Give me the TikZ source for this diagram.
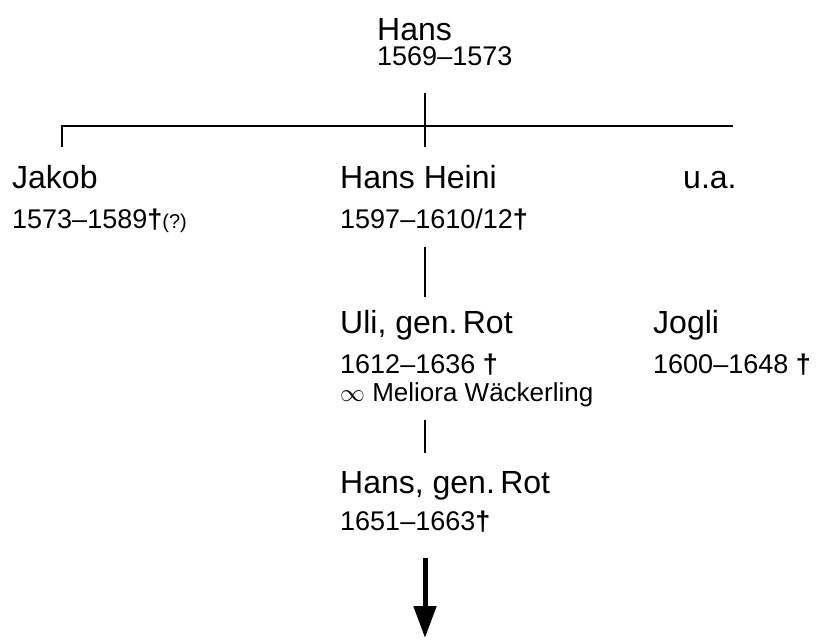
\documentclass[tikz,border=0pt]{standalone}
\usepackage{fontspec}
\setmainfont{Liberation Sans}
\usetikzlibrary{arrows.meta}
\tikzset{
  person/.style={font=\fontsize{32}{36}\selectfont, inner sep=0pt, anchor=base west,
    text height=23pt, text depth=0pt},
  dates/.style={font=\fontsize{27}{30}\selectfont, inner sep=0pt, anchor=base west,
    text height=19pt, text depth=0pt},
  spouse/.style={font=\fontsize{26}{28}\selectfont, inner sep=0pt, anchor=base west,
    text height=18pt, text depth=0pt},
  link/.style={line width=1.6pt},
}
\newcommand{\dg}{\textbf{†}}
\newcommand{\marr}{{\fontsize{30}{30}\selectfont$\infty$}}
\begin{document}
\begin{tikzpicture}[x=1pt,y=-1pt]
  \useasboundingbox (0,0) rectangle (816,643);

  % generation 1
  \node[person] (hans) at (377,40) {Hans};
  \node[dates] (hansd) at (377,65) {1569–1573};

  % generation 2
  \node[person] (jak) at (12,188) {Jakob};
  \node[dates] (jakd) at (12,228) {1573–1589\dg{\fontsize{20}{22}\selectfont(?)}};
  \node[person] (hh) at (340,188) {Hans Heini};
  \node[dates] (hhd) at (340,228) {1597–1610/12\dg};
  \node[person] (ua) at (683,188) {u.a.};

  % generation 3
  \node[person] (uli) at (340,333) {Uli, gen.\,Rot};
  \node[dates] (ulid) at (340,373) {1612–1636 \dg};
  \node[spouse] (mel) at (340,401) {\marr\ Meliora Wäckerling};
  \node[person] (jog) at (653,333) {Jogli};
  \node[dates] (jogd) at (653,373) {1600–1648 \dg};

  % generation 4
  \node[person] (hgr) at (340,493) {Hans, gen.\,Rot};
  \node[dates] (hgrd) at (340,530) {1651–1663\dg};

  \coordinate (axis) at (425,0);
  \coordinate (barL) at (62,126);
  \coordinate (barR) at (733,126);
  \coordinate (down) at (425,638);

  \draw[link, shorten <=28pt] (hansd.south -| axis) -- (hh.north -| axis) [shorten >=18pt];
  \draw[link] ([yshift=18pt]jak.north -| barL) -- (barL) -- (barR);
  \draw[link, shorten <=19pt, shorten >=13pt] (hhd.south -| axis) -- (uli.north -| axis);
  \draw[link, shorten <=19pt, shorten >=17pt] (mel.south -| axis) -- (hgr.north -| axis);
  \draw[line width=5pt, shorten <=28pt, -{Triangle[width=22pt,length=32pt]}]
    (hgrd.south -| axis) -- (down);
\end{tikzpicture}
\end{document}
